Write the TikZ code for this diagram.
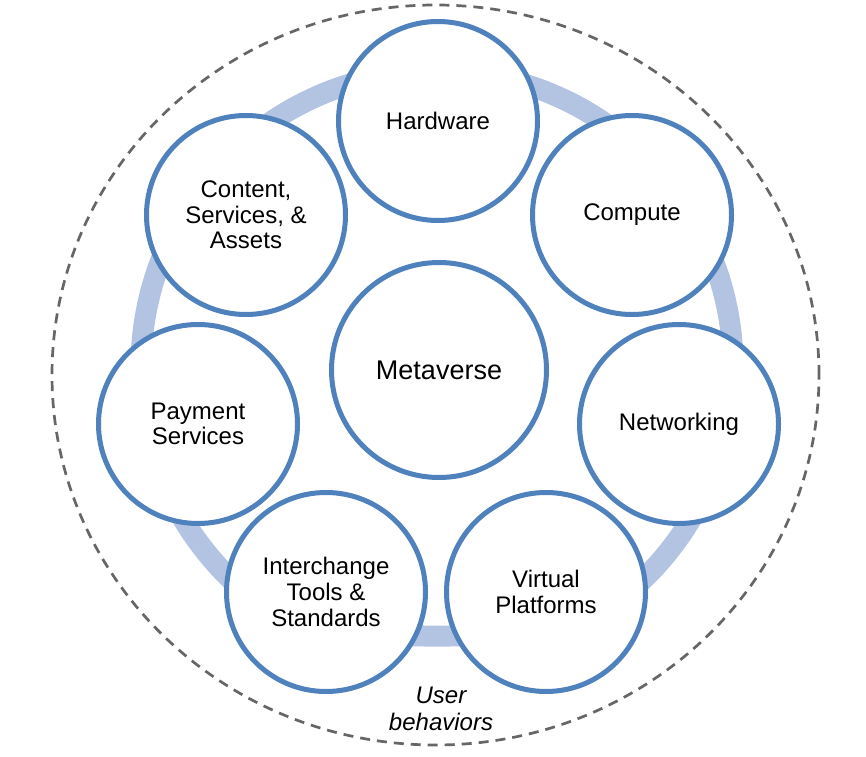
\documentclass[tikz,border=0pt]{standalone}
\usepackage{fontspec}
\setmainfont{Liberation Sans}
\definecolor{cblue}{HTML}{4F81BD}
\definecolor{cring}{HTML}{B3C3E2}
\definecolor{cdash}{HTML}{666666}
\begin{document}
\begin{tikzpicture}[x=0.5pt,y=0.5pt,
  part/.style={circle,draw=cblue,fill=white,line width=2.5pt,minimum size=99.5pt,inner sep=0pt,align=center,text=black,font=\fontsize{12}{12.85}\selectfont},
  hub/.style={part,minimum size=107.5pt,font=\fontsize{13.5}{14}\selectfont},
  ringband/.style={draw=cring,line width=10.5pt},
  outline/.style={draw=cdash,line width=1.35pt,dash pattern=on 5pt off 3.5pt}]
\useasboundingbox (0,0) rectangle (866,756);
\fill[white] (0,0) rectangle (866,756);
% outer dashed boundary
\coordinate (oc) at (435.5,381);
\draw[outline] (oc) ellipse[x radius=191.75pt,y radius=185pt];
% ring
\coordinate (rc) at (437,389);
\coordinate (rbot) at (437,120);
\draw[ringband] (rc) ++(-45:148pt) coordinate (rs) arc[start angle=-45,end angle=225,radius=148pt] coordinate (re)
  to[out=-45,in=180] (rbot) to[out=0,in=225] (rs);
% circles
\node[part] (hw) at (438,635) {Hardware};
\node[part] (cp) at (632,541) {Compute};
\node[part] (nw) at (679,332) {Networking};
\node[part] (vp) at (546,164) {Virtual\\Platforms};
\node[part] (it) at (326,164) {Interchange\\Tools \&\\Standards};
\node[part] (ps) at (198,332) {Payment\\Services};
\node[part] (cs) at (246,541) {Content,\\Services, \&\\Assets};
\node[hub] (mv) at (439,386) {Metaverse};
\node[align=center,font=\fontsize{12}{13.3}\selectfont\itshape] (ub) at (441,47) {User\\behaviors};
\end{tikzpicture}
\end{document}
